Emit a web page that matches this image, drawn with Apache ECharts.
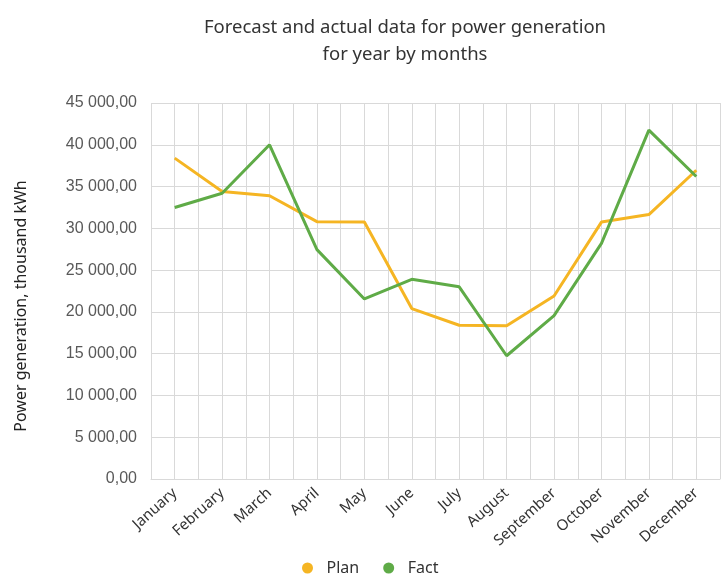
<!DOCTYPE html>
<html>
<head>
<meta charset="utf-8">
<script src="https://cdn.jsdelivr.net/npm/echarts@6/dist/echarts.min.js"></script>
<style>
    html, body { margin: 0; padding: 0; background: #fff; }
    #chart { width: 723px; height: 575px; }
</style>
</head>
<body>
<div id="chart"></div>
<script>
// months
const months = ['January', 'February', 'March', 'April', 'May', 'June',
    'July', 'August', 'September', 'October', 'November', 'December'];

// Plan
const planData = [38400, 34400, 33900, 30800, 30750, 20400,
    18400, 18350, 21900, 30750, 31650, 36950];

// Fact
const factData = [32500, 34200, 40000, 27450, 21550, 23900,
    23000, 14750, 19550, 28200, 41750, 36200];

// half-month grid columns
const gridCols = new Array(months.length * 2).fill('');

function fmt(v) {
    const parts = v.toFixed(2).split('.');
    const intPart = parts[0].replace(/\B(?=(\d{3})+(?!\d))/g, ' ');
    return intPart + ',' + parts[1];
}

const chart = echarts.init(document.getElementById('chart'));

const option = {
    backgroundColor: '#fff',
    animation: false,
    title: {
        text: 'Forecast and actual data for power generation\nfor year by months',
        left: 400,
        top: 9,
        textAlign: 'center',
        textStyle: {
            fontFamily: 'Noto Sans',
            fontSize: 18.5,
            fontWeight: 'normal',
            color: '#333',
            lineHeight: 27,
        },
    },
    legend: {
        data: ['Plan', 'Fact'],
        left: 297,
        top: 555,
        icon: 'circle',
        itemWidth: 22,
        itemHeight: 11,
        itemGap: 24,
        textStyle: {
            fontFamily: 'Noto Sans',
            fontSize: 16,
            color: '#333',
            padding: [0, 0, 0, 3],
        },
    },
    grid: {
        left: 151,
        right: 3,
        top: 103,
        bottom: 96,
    },
    xAxis: [
        {
            type: 'category',
            data: months,
            boundaryGap: true,
            axisLine: { lineStyle: { color: '#d9d9d9' } },
            axisTick: { show: false },
            splitLine: { show: false },
            axisLabel: {
                interval: 0,
                rotate: 42,
                margin: 12,
                fontFamily: 'Noto Sans',
                fontSize: 15,
                color: '#333',
            },
        },
        {
            type: 'category',
            data: gridCols,
            position: 'bottom',
            boundaryGap: true,
            axisLine: { show: false },
            axisTick: { show: false },
            axisLabel: { show: false },
            splitLine: {
                show: true,
                interval: 0,
                lineStyle: { color: '#d9d9d9', width: 1 },
            },
        },
    ],
    yAxis: {
        type: 'value',
        min: 0,
        max: 45000,
        interval: 5000,
        name: 'Power generation, thousand kWh',
        nameLocation: 'middle',
        nameGap: 122,
        nameTextStyle: {
            fontFamily: 'Noto Sans',
            fontSize: 16,
            color: '#222',
            padding: [0, 30, 0, 0],
        },
        axisLine: { show: false },
        axisTick: { show: false },
        splitLine: { lineStyle: { color: '#d9d9d9', width: 1 } },
        axisLabel: {
            margin: 14,
            fontFamily: 'Liberation Sans',
            fontSize: 16,
            color: '#595959',
            formatter: fmt,
        },
    },
    series: [
        {
            name: 'Plan',
            type: 'line',
            data: planData,
            symbol: 'none',
            color: '#F5B523',
            lineStyle: { width: 3, color: '#F5B523' },
        },
        {
            name: 'Fact',
            type: 'line',
            data: factData,
            symbol: 'none',
            color: '#5FAB47',
            lineStyle: { width: 3, color: '#5FAB47' },
        },
    ],
};

chart.setOption(option);
</script>
</body>
</html>
